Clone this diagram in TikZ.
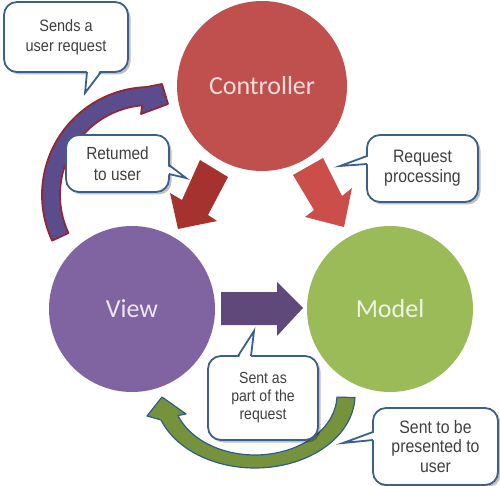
\documentclass[tikz,border=0pt]{standalone}
\usepackage{fontspec}
\newfontfamily\circfont{Carlito}
\newfontfamily\callfont[FakeStretch=0.88]{Liberation Sans}
\usetikzlibrary{shadows}

\definecolor{ctrlred}{HTML}{C0504D}
\definecolor{viewpurple}{HTML}{8064A2}
\definecolor{modelgreen}{HTML}{9BBB59}
\definecolor{ctrltext}{HTML}{F6DCDB}
\definecolor{viewtext}{HTML}{EDE7F3}
\definecolor{modeltext}{HTML}{EEF4E0}
\definecolor{darkred}{HTML}{A6322F}
\definecolor{lightred}{HTML}{CC4E4A}
\definecolor{arrowpurple}{HTML}{5F497A}
\definecolor{bandpurple}{HTML}{5B4C8E}
\definecolor{bandred}{HTML}{8F2A35}
\definecolor{bandgreen}{HTML}{76923C}
\definecolor{bandblue}{HTML}{2E5C8A}
\definecolor{callborder}{HTML}{3B5F8F}
\definecolor{calltext}{HTML}{404040}

\tikzset{
  circ/.style={circle, inner sep=0pt, font=\circfont\fontsize{26}{30}\selectfont},
  callbox/.style={draw=callborder, line width=1.8pt, fill=white, rounded corners=13pt,
    inner sep=0pt, align=center, text=calltext,
    drop shadow={shadow xshift=2.5pt, shadow yshift=-2.5pt, opacity=0.25, fill=black}},
  tailfill/.style={fill=white},
  tailline/.style={draw=callborder, line width=1.8pt, line join=miter},
}

\begin{document}
\begin{tikzpicture}[x=1pt, y=-1pt]
\useasboundingbox (0,0) rectangle (500,486);

% the three components
\node[circ, fill=ctrlred, text=ctrltext, minimum size=170pt] (ctrl) at (262,86) {Controller};
\node[circ, fill=viewpurple, text=viewtext, minimum size=166pt] (view) at (132,309) {View};
\node[circ, fill=modelgreen, text=modeltext, minimum size=166pt] (model) at (390,309) {Model};

% block arrows: controller to view and to model
\fill[darkred] (200,160) -- (228,177) -- (208,215) -- (217,221) -- (178,229)
  -- (170,193) -- (182,200) -- cycle;
\fill[lightred] (293,175) -- (323,158) -- (342,196) -- (352,188) -- (344,227)
  -- (305,217) -- (314,210) -- cycle;

% view to model
\fill[arrowpurple] (221,292) -- (277,292) -- (277,282) -- (303,308) -- (277,336)
  -- (277,325) -- (221,325) -- cycle;

% curved arrow from view up to controller
\draw[fill=bandpurple, draw=bandred, line width=1.8pt, line join=round]
  plot[domain=155:268, samples=50] ({150+108*cos(\x)}, {195+108*sin(\x)})
  -- (162,84) -- (168,104) -- (141,114)
  -- plot[domain=265:155, samples=50] ({150+90*cos(\x)}, {195+90*sin(\x)})
  -- cycle;

% curved arrow from model back to view
\draw[fill=bandgreen, draw=bandblue, line width=1.2pt, line join=round]
  plot[domain=2:160, samples=50] ({255+100*cos(\x)}, {395+73*sin(\x)})
  -- (147,416) -- (162,397) -- (186,414)
  -- plot[domain=160:2, samples=50] ({255+82*cos(\x)}, {395+60*sin(\x)})
  -- cycle;

% callouts
\node[callbox, minimum width=124pt, minimum height=70pt,
  font=\callfont\fontsize{16.5}{20}\selectfont] (c1) at (66,37) {Sends a\\user request};
\coordinate (t1) at (85,93);
\fill[tailfill] (87,69) -- (t1) -- (101,69) -- cycle;
\draw[tailline] (87,72) -- (t1) -- (101,72);

\node[callbox, minimum width=103pt, minimum height=57pt,
  font=\callfont\fontsize{17.5}{21}\selectfont] (c2) at (117.5,163.5) {Retumed\\to user};
\coordinate (t2) at (186,178);
\fill[tailfill] (166,165) -- (t2) -- (166,174) -- cycle;
\draw[tailline] (169,165) -- (t2) -- (169,174);

\node[callbox, minimum width=111pt, minimum height=67pt,
  font=\callfont\fontsize{18}{20}\selectfont] (c3) at (422.5,168.5) {Request\\processing};
\coordinate (t3) at (340,166);
\fill[tailfill] (370,156) -- (t3) -- (370,164) -- cycle;
\draw[tailline] (367,156) -- (t3) -- (367,164);

\node[callbox, minimum width=110pt, minimum height=84pt,
  font=\callfont\fontsize{16}{18}\selectfont] (c4) at (263,398) {Sent as\\part of the\\request};
\coordinate (t4) at (254,331);
\fill[tailfill] (238,359) -- (t4) -- (251,359) -- cycle;
\draw[tailline] (238,356) -- (t4) -- (251,356);

\node[callbox, minimum width=125pt, minimum height=77pt,
  font=\callfont\fontsize{18}{19.5}\selectfont] (c5) at (435.5,446.5) {Sent to be\\presented to\\user};
\coordinate (t5) at (343,443);
\fill[tailfill] (376,432) -- (t5) -- (376,440) -- cycle;
\draw[tailline] (373,432) -- (t5) -- (373,440);

\end{tikzpicture}
\end{document}
